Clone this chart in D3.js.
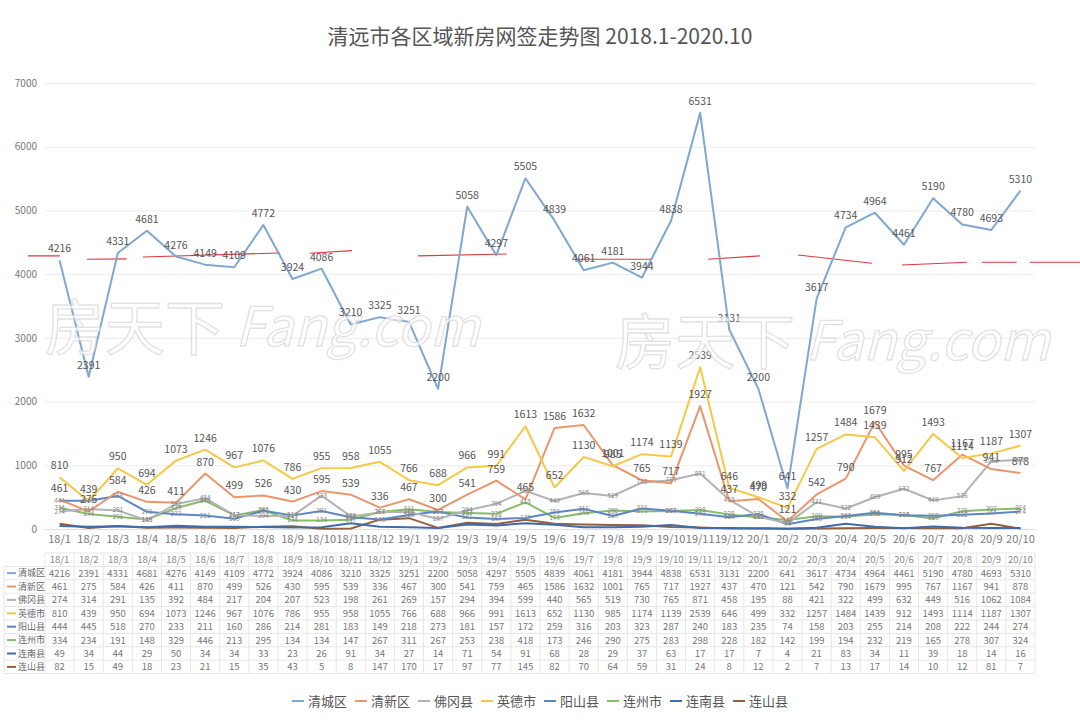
<!DOCTYPE html>
<html lang="zh">
<head>
<meta charset="UTF-8">
<title>清远市各区域新房网签走势图</title>
<script src="https://d3js.org/d3.v7.min.js"></script>
<style>
    body { margin: 0; padding: 0; background: #fff; font-family: "Noto Sans CJK SC", "Noto Sans", sans-serif; }
    svg text { font-family: "Noto Sans CJK SC", "Noto Sans", sans-serif; }
</style>
</head>
<body>
<svg id="chart" width="1080" height="728"></svg>
<script>
// categories
const months = ["18/1","18/2","18/3","18/4","18/5","18/6","18/7","18/8","18/9","18/10","18/11","18/12",
    "19/1","19/2","19/3","19/4","19/5","19/6","19/7","19/8","19/9","19/10","19/11","19/12",
    "20/1","20/2","20/3","20/4","20/5","20/6","20/7","20/8","20/9","20/10"];

const seriesNames = ["清城区","清新区","佛冈县","英德市","阳山县","连州市","连南县","连山县"];

// series values
const qingcheng = [4216,2391,4331,4681,4276,4149,4109,4772,3924,4086,3210,3325,3251,2200,5058,4297,5505,4839,4061,4181,3944,4838,6531,3131,2200,641,3617,4734,4964,4461,5190,4780,4693,5310];
const qingxin = [461,275,584,426,411,870,499,526,430,595,539,336,467,300,541,759,465,1586,1632,1001,765,717,1927,437,470,121,542,790,1679,995,767,1167,941,878];
const fogang = [274,314,291,135,392,484,217,204,207,523,198,261,269,157,294,394,599,440,565,519,730,765,871,458,195,88,421,322,499,632,449,516,1062,1084];
const yingde = [810,439,950,694,1073,1246,967,1076,786,955,958,1055,766,688,966,991,1613,652,1130,985,1174,1139,2539,646,499,332,1257,1484,1439,912,1493,1114,1187,1307];
const yangshan = [444,445,518,270,233,211,160,286,214,281,183,149,218,273,181,157,172,259,316,203,323,287,240,183,235,74,158,203,255,214,208,222,244,274];
const lianzhou = [334,234,191,148,329,446,213,295,134,134,147,267,311,267,253,238,418,173,246,290,275,283,298,228,182,142,199,194,232,219,165,278,307,324];
const liannan = [49,34,44,29,50,34,34,33,23,26,91,34,27,14,71,54,91,68,28,29,37,63,17,17,7,4,21,83,34,11,39,18,14,16];
const lianshan = [82,15,49,18,23,21,15,35,43,5,8,147,170,17,97,77,145,82,70,64,59,31,24,8,12,2,7,13,17,14,10,12,81,7];

const yTicks = [0,1000,2000,3000,4000,5000,6000,7000];

// hand-drawn red marks on the picture: [fromIndex, toIndex, fromValue, toValue]
const redMarks = [
    [-1.09, 0.01, 4286, 4286], [0.94, 2.31, 4234, 4240], [2.86, 7.57, 4270, 4333],
    [8.60, 10.04, 4328, 4369], [12.31, 15.36, 4286, 4317], [17.77, 20.34, 4234, 4234],
    [22.27, 24.05, 4234, 4286], [25.36, 27.9, 4301, 4171], [28.93, 31.16, 4144, 4187],
    [31.67, 32.87, 4187, 4187], [33.32, 35.1, 4187, 4187]
];

const allSeries = [qingcheng, qingxin, fogang, yingde, yangshan, lianzhou, liannan, lianshan];
const colors = ["#7ea7d3","#e9966c","#b3b3b3","#f6c847","#5b87c7","#86bd68","#3f6ca9","#93603f"];
const labelStyle = ["big","big","small","big","small","small","none","none"];

const svg = d3.select("#chart");
const plotLeft = 45, plotRight = 1035, plotTop = 83, plotBottom = 529;

const x = d3.scaleBand().domain(months).range([plotLeft, plotRight]);
const cx = d => x(d) + x.bandwidth() / 2;
const xi = d3.scaleLinear().domain([0, months.length - 1]).range([cx(months[0]), cx(months[months.length - 1])]);
const y = d3.scaleLinear().domain([0, 7000]).range([plotBottom, plotTop]);

// title
svg.append("text")
    .attr("x", 540).attr("y", 44)
    .attr("text-anchor", "middle")
    .attr("font-size", 21)
    .attr("fill", "#555")
    .text("清远市各区域新房网签走势图 2018.1-2020.10");

// grid + y axis
const yAxis = svg.append("g")
    .attr("transform", `translate(${plotLeft},0)`)
    .call(d3.axisLeft(y).tickValues(yTicks).tickSize(-(plotRight - plotLeft)).tickPadding(8).tickFormat(d3.format("d")));
yAxis.select(".domain").remove();
yAxis.selectAll(".tick line").attr("stroke", "#ececec");
yAxis.selectAll(".tick text").attr("fill", "#777").attr("font-size", 10);

// x axis labels
const xAxis = svg.append("g")
    .attr("transform", `translate(0,${plotBottom})`)
    .call(d3.axisBottom(x).tickSize(0).tickPadding(6));
xAxis.select(".domain").attr("stroke", "#e0e0e0");
xAxis.selectAll(".tick text").attr("fill", "#777").attr("font-size", 11);

// red annotation strokes
svg.append("g").selectAll("line")
    .data(redMarks)
    .join("line")
    .attr("x1", d => xi(d[0])).attr("x2", d => xi(d[1]))
    .attr("y1", d => y(d[2])).attr("y2", d => y(d[3]))
    .attr("stroke", "#e0393e")
    .attr("stroke-width", 1.1);

// lines
const line = d3.line().x((d, i) => cx(months[i])).y(d => y(d));
const drawOrder = [7, 6, 5, 4, 2, 1, 3, 0];
drawOrder.forEach(k => {
    svg.append("path")
        .datum(allSeries[k])
        .attr("fill", "none")
        .attr("stroke", colors[k])
        .attr("stroke-width", 2)
        .attr("stroke-linejoin", "round")
        .attr("d", line);
});

// data labels
allSeries.forEach((vals, k) => {
    if (labelStyle[k] === "none") return;
    const big = labelStyle[k] === "big";
    svg.append("g").selectAll("text")
        .data(vals)
        .join("text")
        .attr("x", (d, i) => cx(months[i]))
        .attr("y", d => big ? y(d) - 8 : y(d) + 2)
        .attr("text-anchor", "middle")
        .attr("font-size", big ? 10.5 : 6.5)
        .attr("fill", big ? "#555" : "#888")
        .text(d => d);
});

// watermark
function watermark(x0, y0) {
    const g = svg.append("g").attr("opacity", 0.7);
    g.append("text").attr("x", x0).attr("y", y0)
        .attr("font-size", 60)
        .attr("fill", "#fff").attr("stroke", "#d6d6d6").attr("stroke-width", 1.3)
        .text("房天下");
    g.append("text").attr("x", x0 + 190).attr("y", y0 - 4)
        .attr("font-size", 54).attr("font-style", "italic").attr("font-family", "Arial, sans-serif")
        .attr("fill", "#fff").attr("stroke", "#d6d6d6").attr("stroke-width", 1.3)
        .text("Fang.com");
}
watermark(45, 350);
watermark(615, 364);

// data table
const tableTop = 553, rowH = 13.4, tableLeft = 4;
const table = svg.append("g");
const nRows = seriesNames.length + 1;
for (let r = 0; r <= nRows; r++) {
    table.append("line")
        .attr("x1", r === 0 ? plotLeft : tableLeft).attr("x2", plotRight)
        .attr("y1", tableTop + r * rowH).attr("y2", tableTop + r * rowH)
        .attr("stroke", "#e6e6e6");
}
months.concat([null]).forEach(m => {
    const xx = m ? x(m) : plotRight;
    table.append("line")
        .attr("x1", xx).attr("x2", xx)
        .attr("y1", tableTop).attr("y2", tableTop + nRows * rowH)
        .attr("stroke", "#e6e6e6");
});
table.append("line").attr("x1", tableLeft).attr("x2", tableLeft)
    .attr("y1", tableTop + rowH).attr("y2", tableTop + nRows * rowH).attr("stroke", "#e6e6e6");

table.append("g").selectAll("text")
    .data(months)
    .join("text")
    .attr("x", d => cx(d))
    .attr("y", tableTop + rowH / 2 + 3.5)
    .attr("text-anchor", "middle")
    .attr("font-size", 9.5)
    .attr("fill", "#888")
    .text(d => d);

allSeries.forEach((vals, k) => {
    const rowY = tableTop + (k + 1) * rowH + rowH / 2;
    table.append("line")
        .attr("x1", tableLeft + 3).attr("x2", tableLeft + 12)
        .attr("y1", rowY).attr("y2", rowY)
        .attr("stroke", colors[k]).attr("stroke-width", 2);
    table.append("text")
        .attr("x", tableLeft + 14).attr("y", rowY + 3.3)
        .attr("font-size", 9).attr("fill", "#666")
        .text(seriesNames[k]);
    table.append("g").selectAll("text")
        .data(vals)
        .join("text")
        .attr("x", (d, i) => cx(months[i]))
        .attr("y", rowY + 3.5)
        .attr("text-anchor", "middle")
        .attr("font-size", 9.5)
        .attr("fill", "#777")
        .text(d => d);
});

// legend
const legend = svg.append("g");
let lx = 0;
seriesNames.forEach((name, k) => {
    const item = legend.append("g").attr("transform", `translate(${lx},0)`);
    item.append("line").attr("x1", 0).attr("x2", 12).attr("y1", 0).attr("y2", 0)
        .attr("stroke", colors[k]).attr("stroke-width", 2);
    const t = item.append("text").attr("x", 16).attr("y", 4.5)
        .attr("font-size", 13).attr("fill", "#555").text(name);
    lx += 16 + t.node().getComputedTextLength() + 8;
});
legend.attr("transform", `translate(${540 - (lx - 8) / 2},701)`);
</script>
</body>
</html>
